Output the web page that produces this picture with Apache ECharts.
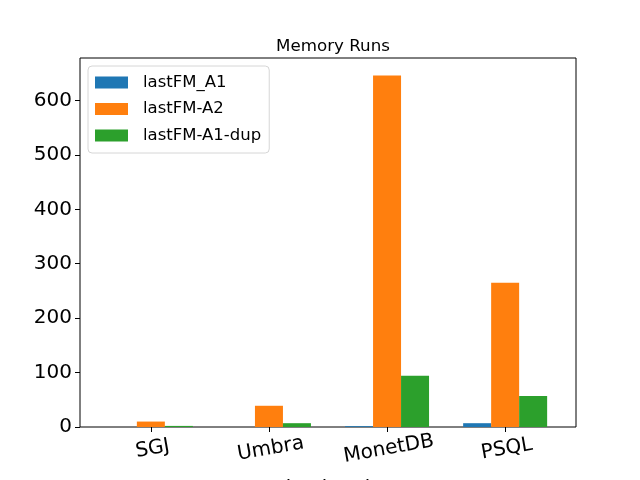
<!DOCTYPE html>
<html>
<head>
<meta charset="utf-8">
<script src="https://cdn.jsdelivr.net/npm/echarts@6/dist/echarts.min.js"></script>
<style>
  html, body { margin: 0; padding: 0; background: #fff; }
  #chart { width: 640px; height: 480px; }
</style>
</head>
<body>
<div id="chart"></div>
<script>
// data
const systems = ['SGJ', 'Umbra', 'MonetDB', 'PSQL']
const lastFM_A1 = [0, 0, 1.5, 7]
const lastFM_A2 = [10, 39, 646, 265]
const lastFM_A1_dup = [2, 7, 94, 57]
const yTicks = [0, 100, 200, 300, 400, 500, 600]

const seriesNames = ['lastFM_A1', 'lastFM-A2', 'lastFM-A1-dup']
const seriesColors = ['#1f77b4', '#ff7f0e', '#2ca02c']
const seriesData = [lastFM_A1, lastFM_A2, lastFM_A1_dup]

const font = 'DejaVu Sans'
const xPos = systems.map((s, i) => i)

const chart = echarts.init(document.getElementById('chart'), null, { renderer: 'canvas' })

chart.setOption({
  backgroundColor: '#fff',
  animation: false,
  textStyle: { fontFamily: font },
  title: {
    text: 'Memory Runs',
    left: 328,
    top: 33,
    textAlign: 'center',
    textStyle: { fontFamily: font, fontSize: 16.7, fontWeight: 'normal', color: '#000' }
  },
  legend: {
    orient: 'vertical',
    left: 88,
    top: 66,
    padding: [8, 8, 9, 7],
    itemWidth: 33,
    itemHeight: 12,
    itemGap: 9.5,
    borderColor: '#d6d6d6',
    borderWidth: 1,
    borderRadius: 4,
    backgroundColor: 'rgba(255,255,255,0.8)',
    textStyle: { fontFamily: font, fontSize: 16.5, color: '#000', padding: [0, 0, 0, 10] },
    data: seriesNames.map(n => ({ name: n, icon: 'rect' }))
  },
  grid: {
    left: 80, right: 64, top: 58, bottom: 53,
    outerBoundsMode: 'none',
    show: true, borderColor: '#000', borderWidth: 1
  },
  xAxis: {
    type: 'value',
    min: -0.6,
    max: 3.6,
    name: 'backend',
    nameLocation: 'middle',
    nameGap: 52,
    nameTextStyle: { fontFamily: font, fontSize: 20, color: '#000', verticalAlign: 'top' },
    splitLine: { show: false },
    axisLine: { show: false, onZero: false },
    axisTick: { show: true, customValues: xPos, length: 5, lineStyle: { color: '#000' } },
    axisLabel: {
      customValues: xPos,
      formatter: v => systems[Math.round(v)],
      rotate: 10,
      align: 'center',
      verticalAlign: 'top',
      margin: 12,
      fontFamily: font,
      fontSize: 20,
      color: '#000'
    }
  },
  yAxis: {
    type: 'value',
    min: 0,
    max: 678,
    splitLine: { show: false },
    axisLine: { show: false, onZero: false },
    axisTick: { show: true, customValues: yTicks, length: 5, lineStyle: { color: '#000' } },
    axisLabel: {
      customValues: yTicks,
      margin: 8,
      fontFamily: font,
      fontSize: 20,
      color: '#000'
    }
  },
  series: seriesNames.map((name, k) => ({
    name: name,
    type: 'bar',
    barWidth: 28,
    barGap: '0%',
    itemStyle: { color: seriesColors[k] },
    data: seriesData[k].map((v, i) => [xPos[i], v])
  }))
})
</script>
</body>
</html>
